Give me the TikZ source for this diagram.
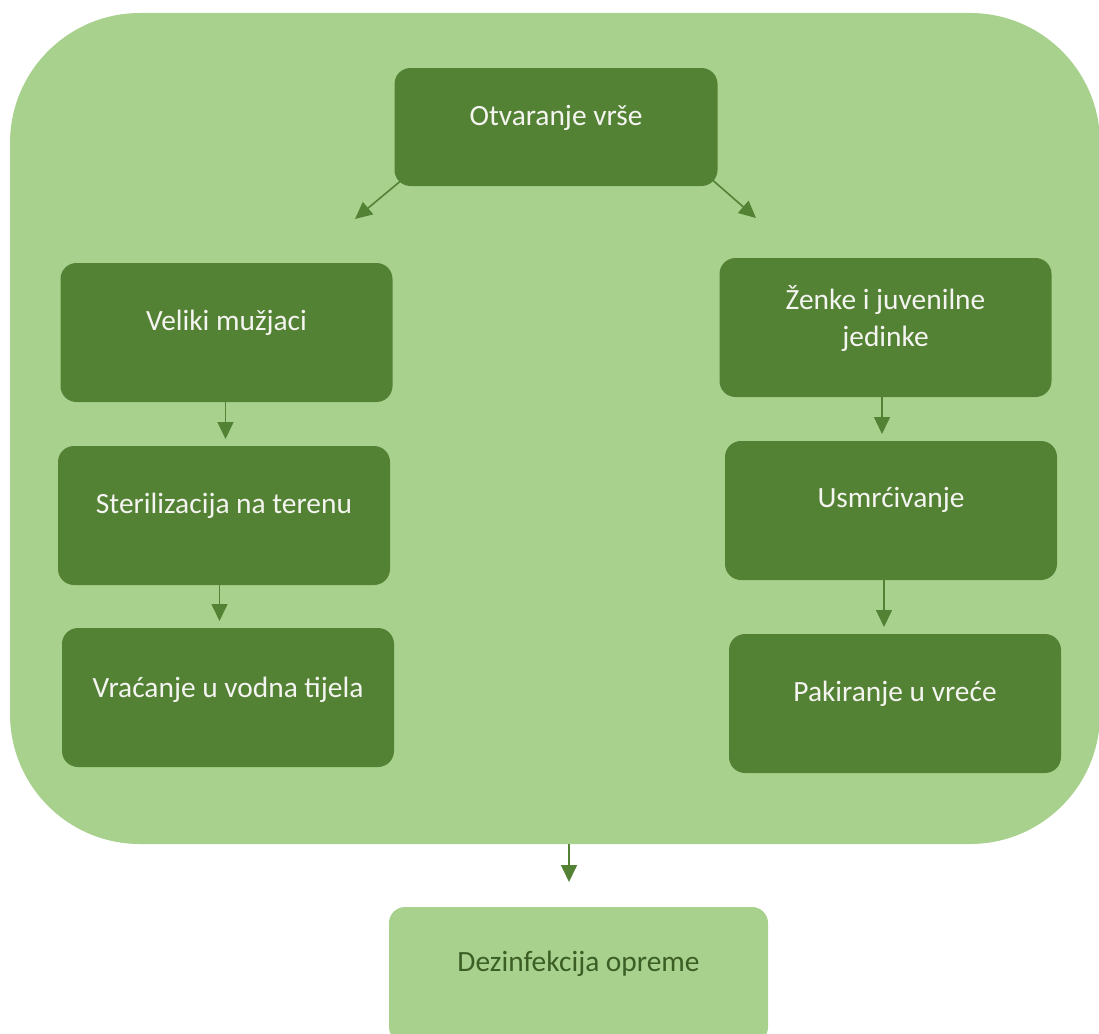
\documentclass[tikz,border=0pt]{standalone}
\usepackage{fontspec}
\setmainfont{Carlito}
\usetikzlibrary{arrows.meta,calc}
\definecolor{dkgreen}{HTML}{548235}
\definecolor{ltgreen}{HTML}{A9D18E}
\definecolor{txtlight}{HTML}{F4F4F0}
\definecolor{txtdark}{HTML}{3B5E25}
\begin{document}
\begin{tikzpicture}[x=1pt,y=-1pt,
  stepbox/.style={fill=dkgreen, draw=none, rounded corners=16pt, inner sep=0pt, minimum width=332pt, minimum height=139pt},
  steptext/.style={text=txtlight, font=\fontsize{29.4}{37.5}\selectfont, align=center},
  flow/.style={draw=dkgreen, line width=1.6pt, -{Triangle[length=17pt,width=16pt]}}
]
\clip (0,0) rectangle (1099,1033);
\useasboundingbox (0,0) rectangle (1099,1033);
% big frame
\node[fill=ltgreen, rounded corners=130pt, inner sep=0pt, minimum width=1090pt, minimum height=831pt] (frame) at (555,428.5) {};
% boxes
\node[stepbox, minimum width=323pt, minimum height=118pt, label={[steptext, yshift=9pt]center:Otvaranje vrše}] (otv) at (556,127) {};
\node[stepbox, label={[steptext, yshift=10pt]center:Veliki mužjaci}] (vel) at (226.5,332.5) {};
\node[stepbox, label={[steptext, yshift=10pt]center:Sterilizacija na terenu}] (ster) at (224,515.5) {};
\node[stepbox, label={[steptext, yshift=8pt]center:Vraćanje u vodna tijela}] (vrac) at (228,697.5) {};
\node[stepbox, label={[steptext, yshift=9pt]center:Ženke i juvenilne\\jedinke}] (zen) at (885.5,327.5) {};
\node[stepbox, label={[steptext, yshift=11pt]center:Usmrćivanje}] (usm) at (891,510.5) {};
\node[stepbox, label={[steptext, yshift=10pt]center:Pakiranje u vreće}] (pak) at (895,703.5) {};
\node[fill=ltgreen, rounded corners=16pt, inner sep=0pt, minimum width=379pt, minimum height=136pt,
  label={[steptext, text=txtdark, yshift=11pt]center:Dezinfekcija opreme}] (dez) at (578.5,975) {};
% arrow ends
\coordinate (aL) at (355,219);
\coordinate (aR) at (756,218);
\coordinate (a1) at (225.5,439);
\coordinate (a2) at (219.5,621);
\coordinate (a3) at (882,434);
\coordinate (a4) at (884,627);
\coordinate (a5) at (569,882);
% arrows
\draw[flow] ($(otv.south west)+(6,-5)$) -- (aL);
\draw[flow] ($(otv.south east)+(-5,-6)$) -- (aR);
\draw[flow] (vel.south -| a1) -- (a1);
\draw[flow] (ster.south -| a2) -- (a2);
\draw[flow] (zen.south -| a3) -- (a3);
\draw[flow] (usm.south -| a4) -- (a4);
\draw[flow] (frame.south -| a5) -- (a5);
\end{tikzpicture}
\end{document}
